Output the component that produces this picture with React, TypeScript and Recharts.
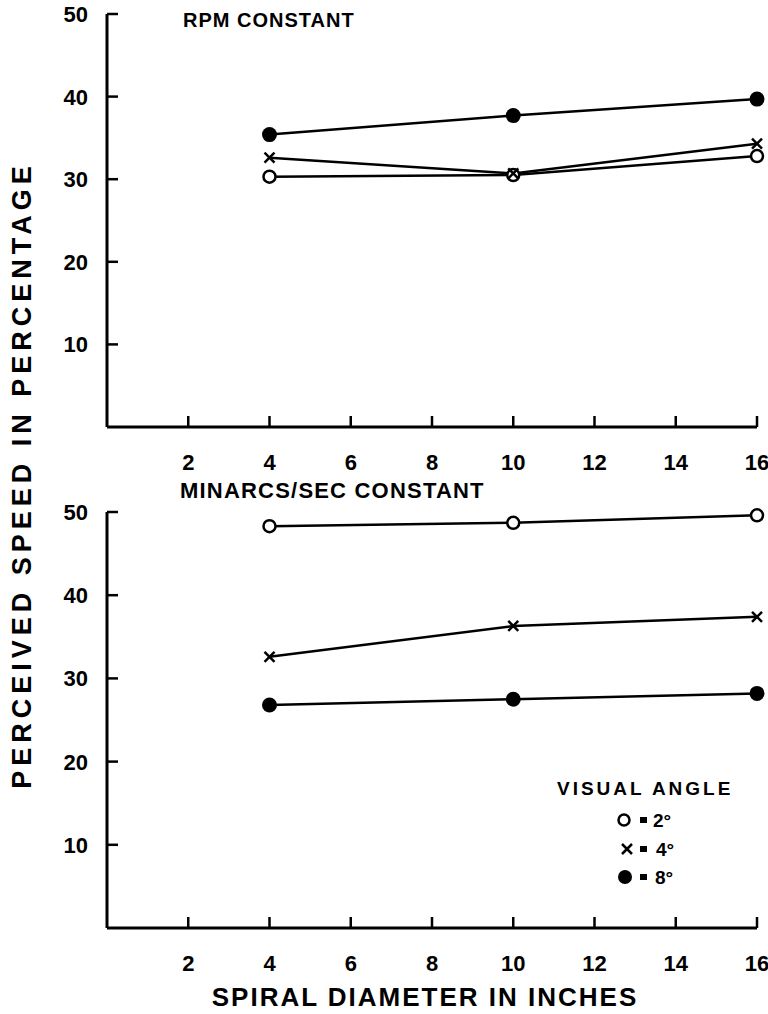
import React from 'react';
import { LineChart, Line, XAxis, YAxis } from 'recharts';

const DIAMETERS = [4, 10, 16];
const X_TICKS = [2, 4, 6, 8, 10, 12, 14, 16];
const Y_TICKS = [10, 20, 30, 40, 50];

// RPM constant (upper panel)
const RPM_2DEG = [30.3, 30.5, 32.8];
const RPM_4DEG = [32.6, 30.7, 34.3];
const RPM_8DEG = [35.4, 37.7, 39.7];

// minarcs/sec constant (lower panel)
const MIN_2DEG = [48.3, 48.7, 49.6];
const MIN_4DEG = [32.6, 36.3, 37.4];
const MIN_8DEG = [26.8, 27.5, 28.2];

const FONT = '"Liberation Sans", Arial, sans-serif';
const TICK_LEN = 11;
const Y_GAP = 19;
const X_GAP = 27;

function rows(a2: number[], a4: number[], a8: number[]) {
  return DIAMETERS.map((d, i) => ({ d, a2: a2[i], a4: a4[i], a8: a8[i] }));
}

const OpenDot = (p: any) => (
  <circle key={`o-${p.index}`} cx={p.cx} cy={p.cy} r={6} fill="#fff" stroke="#000" strokeWidth={2.5} />
);

const CrossDot = (p: any) => (
  <g key={`x-${p.index}`} stroke="#000" strokeWidth={2.5}>
    <line x1={p.cx - 5} y1={p.cy - 5} x2={p.cx + 5} y2={p.cy + 5} />
    <line x1={p.cx - 5} y1={p.cy + 5} x2={p.cx + 5} y2={p.cy - 5} />
  </g>
);

const FilledDot = (p: any) => <circle key={`f-${p.index}`} cx={p.cx} cy={p.cy} r={7.5} fill="#000" />;

// ticks point into the plot, so draw them together with the label
const YTick = (p: any) => (
  <g>
    <line x1={p.x + Y_GAP} x2={p.x + Y_GAP + TICK_LEN} y1={p.y} y2={p.y} stroke="#000" strokeWidth={2.5} />
    <text x={p.x} y={p.y + 8} textAnchor="end" fontFamily={FONT} fontWeight={700} fontSize={22} fill="#000">
      {p.payload.value}
    </text>
  </g>
);

const XTick = (p: any) => (
  <g>
    <line x1={p.x} x2={p.x} y1={p.y - X_GAP} y2={p.y - X_GAP - TICK_LEN} stroke="#000" strokeWidth={2.5} />
    <text x={p.x} y={p.y + 16} textAnchor="middle" fontFamily={FONT} fontWeight={700} fontSize={22} fill="#000">
      {p.payload.value}
    </text>
  </g>
);

function Panel({ data, height, top, xHeight }: { data: any[]; height: number; top: number; xHeight: number }) {
  return (
    <LineChart width={768} height={height} data={data} margin={{ top, right: 11, left: 0, bottom: 0 }}>
      <XAxis
        dataKey="d"
        type="number"
        domain={[0, 16]}
        ticks={X_TICKS}
        interval={0}
        height={xHeight}
        axisLine={{ stroke: '#000', strokeWidth: 3 }}
        tickLine={false}
        tickSize={0}
        tickMargin={X_GAP}
        tick={XTick}
      />
      <YAxis
        type="number"
        domain={[0, 50]}
        ticks={Y_TICKS}
        interval={0}
        width={107}
        axisLine={{ stroke: '#000', strokeWidth: 3 }}
        tickLine={false}
        tickSize={0}
        tickMargin={Y_GAP}
        tick={YTick}
      />
      <Line dataKey="a8" stroke="#000" strokeWidth={2.5} dot={FilledDot} isAnimationActive={false} />
      <Line dataKey="a2" stroke="#000" strokeWidth={2.5} dot={OpenDot} isAnimationActive={false} />
      <Line dataKey="a4" stroke="#000" strokeWidth={2.5} dot={CrossDot} isAnimationActive={false} />
    </LineChart>
  );
}

export default function App() {
  const label: React.CSSProperties = {
    position: 'absolute',
    fontFamily: FONT,
    fontWeight: 700,
    color: '#000',
    whiteSpace: 'nowrap',
  };
  return (
    <div style={{ position: 'absolute', left: 0, top: 0, width: 768, height: 1014, background: '#fff' }}>
      <div style={{ position: 'absolute', left: 0, top: 0 }}>
        <Panel data={rows(RPM_2DEG, RPM_4DEG, RPM_8DEG)} height={480} top={14} xHeight={53} />
      </div>
      <div style={{ position: 'absolute', left: 0, top: 480 }}>
        <Panel data={rows(MIN_2DEG, MIN_4DEG, MIN_8DEG)} height={534} top={32} xHeight={86} />
      </div>

      <div style={{ ...label, left: 183, top: 10, fontSize: 20, lineHeight: '20px', letterSpacing: 1 }}>
        RPM CONSTANT
      </div>
      <div style={{ ...label, left: 180, top: 480, fontSize: 22, lineHeight: '22px', letterSpacing: 1.2 }}>
        MINARCS/SEC CONSTANT
      </div>

      <div
        style={{
          ...label,
          left: 22 - 350,
          top: 475 - 15,
          width: 700,
          height: 30,
          lineHeight: '30px',
          fontSize: 27,
          letterSpacing: 5,
          textAlign: 'center',
          transform: 'rotate(-90deg)',
        }}
      >
        PERCEIVED SPEED IN PERCENTAGE
      </div>
      <div
        style={{
          ...label,
          left: 125,
          top: 982,
          width: 600,
          lineHeight: '30px',
          fontSize: 26,
          letterSpacing: 2,
          textAlign: 'center',
        }}
      >
        SPIRAL DIAMETER IN INCHES
      </div>

      <svg style={{ position: 'absolute', left: 540, top: 770 }} width={220} height={125}>
        <g fontFamily={FONT} fontWeight={700} fontSize={19} fill="#000">
          <text x={17} y={25} letterSpacing={3}>VISUAL ANGLE</text>
          <circle cx={84} cy={50} r={5.5} fill="#fff" stroke="#000" strokeWidth={2.5} />
          <rect x={100} y={47} width={7} height={6} />
          <text x={113} y={57}>2°</text>
          <g stroke="#000" strokeWidth={2.5}>
            <line x1={82} y1={74} x2={92} y2={84} />
            <line x1={82} y1={84} x2={92} y2={74} />
          </g>
          <rect x={100} y={76} width={7} height={6} />
          <text x={116} y={86}>4°</text>
          <circle cx={85} cy={107} r={7} />
          <rect x={100} y={104} width={7} height={6} />
          <text x={115} y={114}>8°</text>
        </g>
      </svg>
    </div>
  );
}
